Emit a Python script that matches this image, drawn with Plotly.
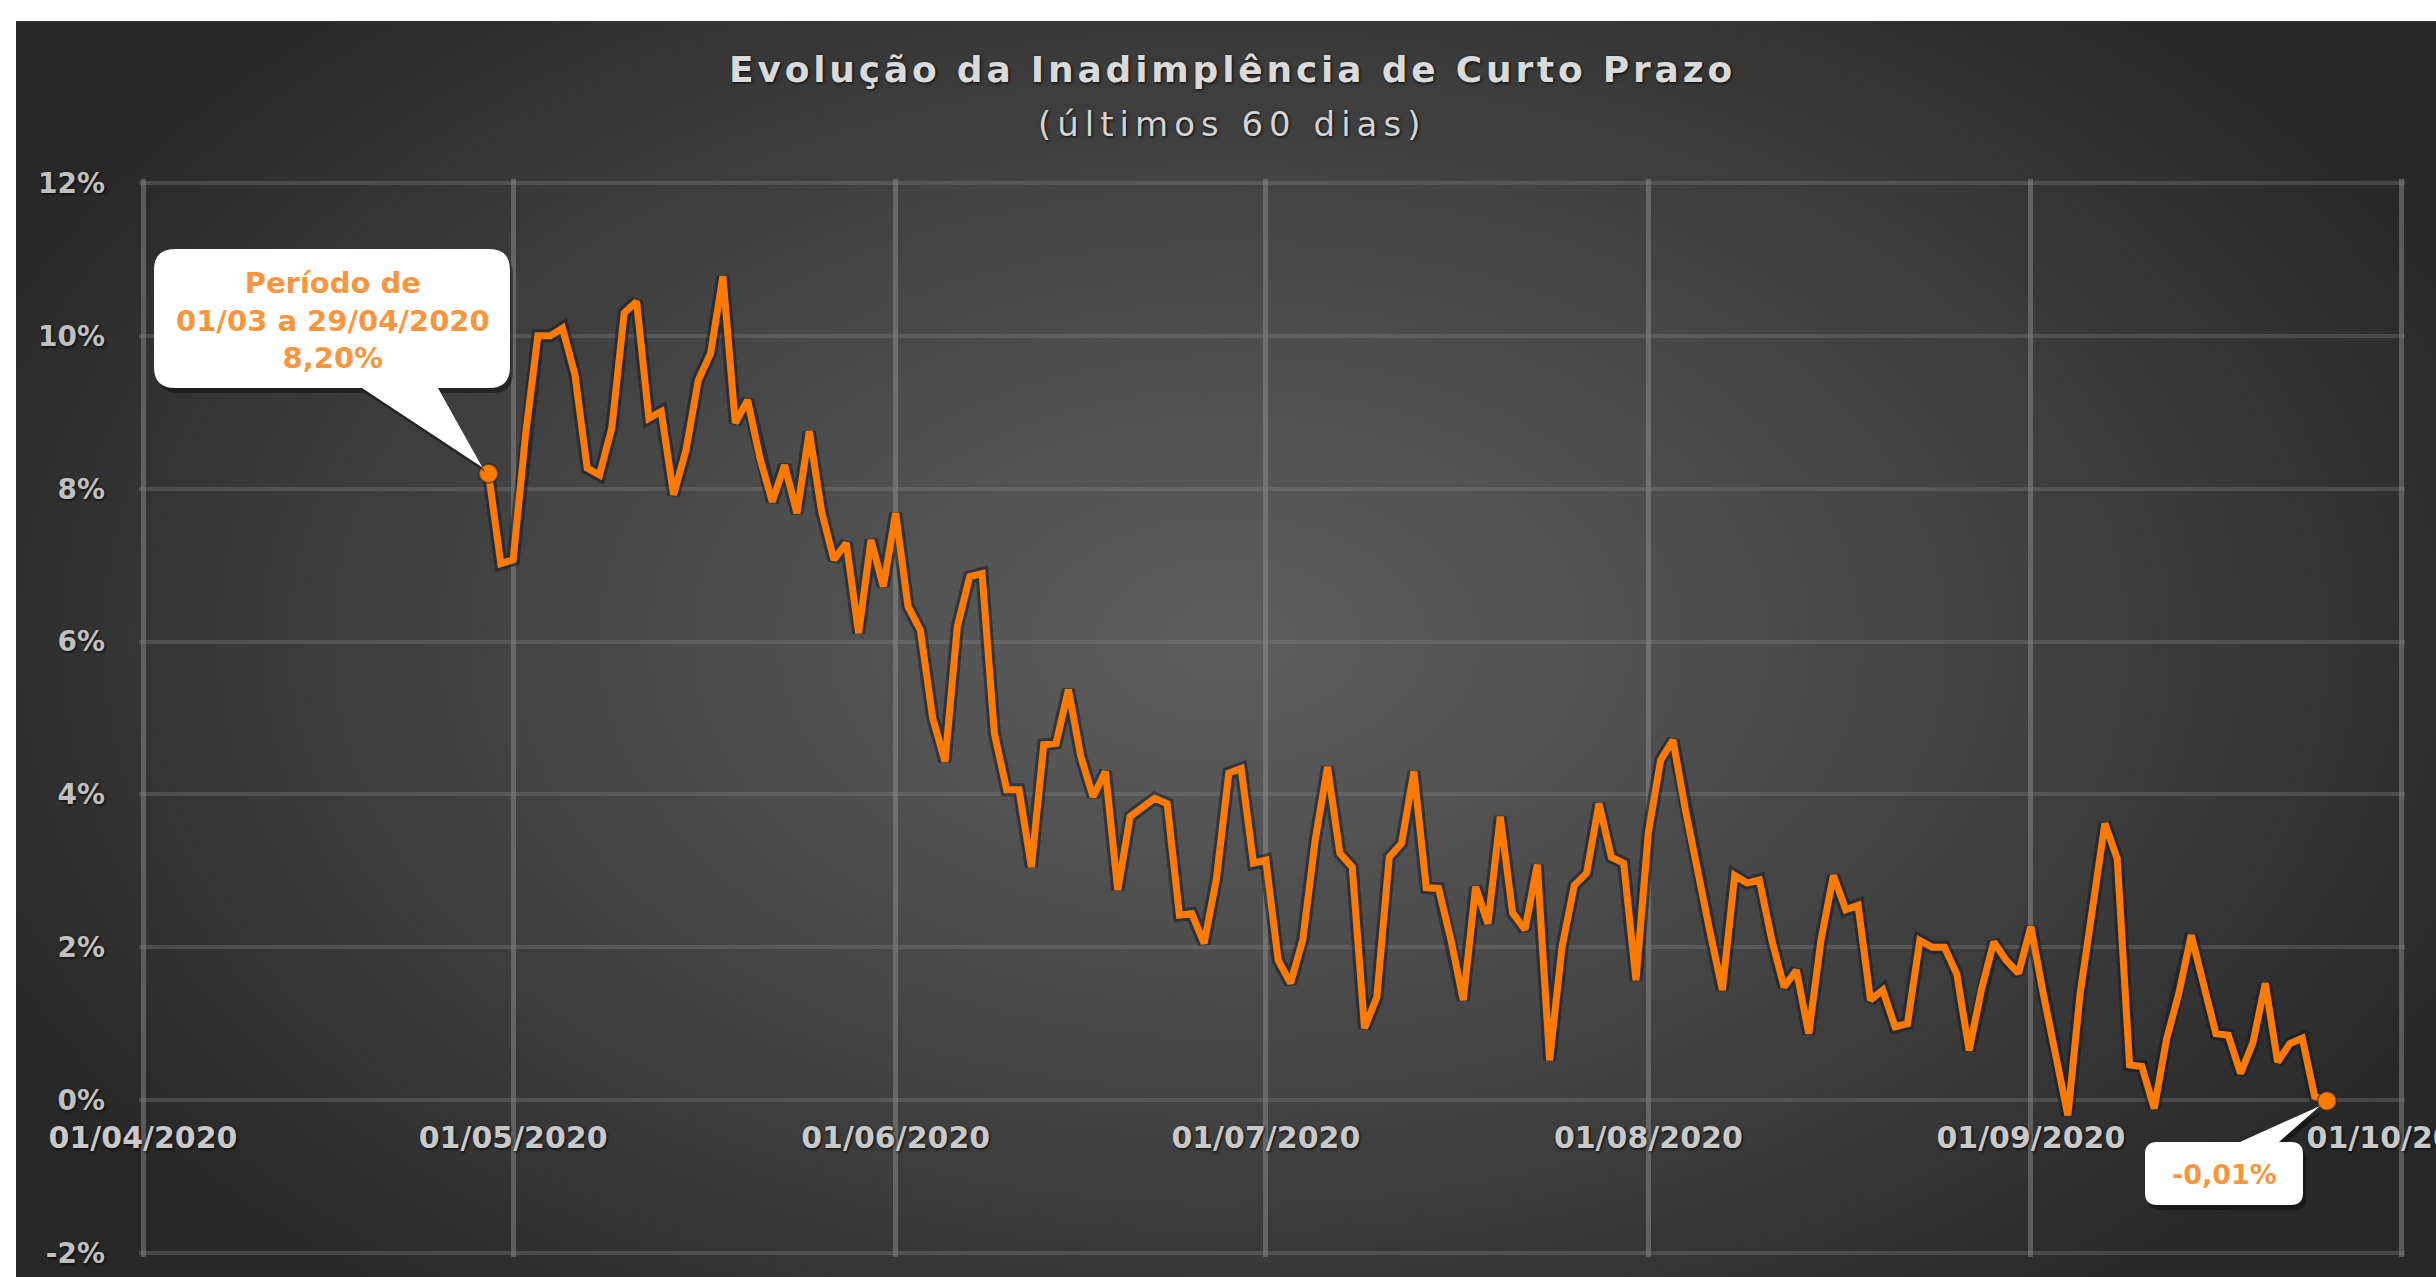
import plotly.graph_objects as go
import pandas as pd

# ---------------- data ----------------
START_DATE = "2020-04-29"
rate = [
    8.20, 7.02, 7.07, 8.70, 10.00, 10.00, 10.10, 9.50, 8.27, 8.18,
    8.80, 10.30, 10.45, 8.92, 9.01, 7.92, 8.50, 9.42, 9.77, 10.78,
    8.86, 9.16, 8.40, 7.83, 8.31, 7.68, 8.75, 7.70, 7.07, 7.29,
    6.11, 7.33, 6.72, 7.68, 6.46, 6.15, 5.00, 4.43, 6.20, 6.85,
    6.89, 4.80, 4.06, 4.06, 3.05, 4.65, 4.67, 5.37, 4.50, 3.97,
    4.30, 2.75, 3.71, 3.82, 3.95, 3.88, 2.42, 2.44, 2.05, 2.90,
    4.28, 4.34, 3.10, 3.14, 1.83, 1.53, 2.10, 3.40, 4.36, 3.23,
    3.05, 0.94, 1.35, 3.18, 3.36, 4.30, 2.78, 2.77, 2.10, 1.31,
    2.79, 2.31, 3.71, 2.45, 2.23, 3.08, 0.52, 2.00, 2.81, 2.97,
    3.88, 3.18, 3.10, 1.57, 3.50, 4.45, 4.71, 3.80, 3.05, 2.20,
    1.44, 2.94, 2.84, 2.88, 2.10, 1.48, 1.70, 0.87, 2.10, 2.94,
    2.49, 2.55, 1.31, 1.44, 0.96, 1.00, 2.09, 2.00, 2.00, 1.65,
    0.65, 1.45, 2.07, 1.83, 1.66, 2.27, 1.40, 0.60, -0.20, 1.40,
    2.50, 3.62, 3.16, 0.46, 0.44, -0.11, 0.80, 1.40, 2.16, 1.50,
    0.87, 0.85, 0.35, 0.75, 1.53, 0.50, 0.74, 0.81, 0.05, -0.01,
]

x_tick_dates = ["2020-04-01", "2020-05-01", "2020-06-01", "2020-07-01",
                "2020-08-01", "2020-09-01", "2020-10-01"]
x_tick_labels = ["01/04/2020", "01/05/2020", "01/06/2020", "01/07/2020",
                 "01/08/2020", "01/09/2020", "01/10/2020"]
y_tick_values = [-2, 0, 2, 4, 6, 8, 10, 12]
y_tick_labels = ["-2%", "0%", "2%", "4%", "6%", "8%", "10%", "12%"]

title_text = "Evolução da Inadimplência de Curto Prazo"
subtitle_text = "(últimos 60 dias)"
callout_first_lines = ["Período de", "01/03 a 29/04/2020", "8,20%"]
callout_last_text = "-0,01%"

dates = pd.date_range(START_DATE, periods=len(rate), freq="D")

# ---------------- geometry helpers ----------------
W, H = 2436, 1277
GX0, GX1, GY0, GY1 = 143, 2401, 183, 1253   # pixel extent of the grid
PAD = 4
ML, MR, MT, MB = GX0 - PAD, W - GX1 - PAD, GY0 - PAD, H - GY1 - PAD
PW, PH = W - ML - MR, H - MT - MB
Y_MIN, Y_MAX = y_tick_values[0], y_tick_values[-1]
X0, X1 = pd.Timestamp(x_tick_dates[0]), pd.Timestamp(x_tick_dates[-1])
dpp = (X1 - X0) / (GX1 - GX0)
vpp = (Y_MAX - Y_MIN) / (GY1 - GY0)
x_range = [(X0 - PAD * dpp).isoformat(sep=" "), (X1 + PAD * dpp).isoformat(sep=" ")]
y_range = [Y_MIN - PAD * vpp, Y_MAX + PAD * vpp]


def fx(px):
    return (px - ML) / PW


def fy(py):
    return (H - MB - py) / PH


def data_px(d, v):
    px = GX0 + (pd.Timestamp(d) - X0) / (X1 - X0) * (GX1 - GX0)
    py = GY0 + (Y_MAX - v) / (Y_MAX - Y_MIN) * (GY1 - GY0)
    return px, py


def pt(p):
    return f"{fx(p[0]):.5f},{fy(p[1]):.5f}"


def callout_path(x0, y0, x1, y1, r, side, ta, tb, tip, dx=0, dy=0):
    x0, x1, ta, tb = x0 + dx, x1 + dx, ta + dx, tb + dx
    y0, y1 = y0 + dy, y1 + dy
    tip = (tip[0] + dx, tip[1] + dy)
    s = f"M {pt((x0 + r, y0))} "
    if side == "top":
        s += f"L {pt((ta, y0))} L {pt(tip)} L {pt((tb, y0))} "
    s += f"L {pt((x1 - r, y0))} Q {pt((x1, y0))} {pt((x1, y0 + r))} "
    s += f"L {pt((x1, y1 - r))} Q {pt((x1, y1))} {pt((x1 - r, y1))} "
    if side == "bottom":
        s += f"L {pt((tb, y1))} L {pt(tip)} L {pt((ta, y1))} "
    s += f"L {pt((x0 + r, y1))} Q {pt((x0, y1))} {pt((x0, y1 - r))} "
    s += f"L {pt((x0, y0 + r))} Q {pt((x0, y0))} {pt((x0 + r, y0))} Z"
    return s


shapes = []
# dark panel
EDGE, CENTER = 40, 92
PANEL_L, PANEL_T = 16, 21
shapes.append(dict(type="rect", xref="paper", yref="paper", layer="below",
                   x0=fx(PANEL_L), x1=fx(W + 5), y0=fy(H + 5), y1=fy(PANEL_T),
                   fillcolor=f"rgb({EDGE},{EDGE},{EDGE})", line=dict(width=0)))
# radial gradient (stacked ellipses)
CX, CY, RX, RY, N = 1230, 640, 1350, 850, 60
for i in range(N):
    r = 1 - i / N
    rm = max(r - 0.5 / N, 0)
    c = round(CENTER - (CENTER - EDGE) * rm ** 1.2)
    shapes.append(dict(type="circle", xref="paper", yref="paper", layer="below",
                       x0=fx(CX - RX * r), x1=fx(CX + RX * r),
                       y0=fy(CY + RY * r), y1=fy(CY - RY * r),
                       fillcolor=f"rgb({c},{c},{c})", line=dict(width=0)))
# white frame strips
shapes.append(dict(type="rect", xref="paper", yref="paper", layer="below",
                   x0=fx(-5), x1=fx(PANEL_L), y0=fy(H + 5), y1=fy(-5),
                   fillcolor="white", line=dict(width=0)))
shapes.append(dict(type="rect", xref="paper", yref="paper", layer="below",
                   x0=fx(-5), x1=fx(W + 5), y0=fy(PANEL_T), y1=fy(-5),
                   fillcolor="white", line=dict(width=0)))

# callout 1 (first point)
p_first = data_px(dates[0], rate[0])
tip1 = (p_first[0] - 6, p_first[1] - 6)
for dx, dy, col in [(3, 5, "rgba(0,0,0,0.4)"), (0, 0, "white")]:
    shapes.append(dict(type="path", xref="paper", yref="paper", layer="above",
                       path=callout_path(154, 249, 510, 388, 21, "bottom", 362, 438, tip1, dx, dy),
                       fillcolor=col, line=dict(width=0)))
# callout 2 (last point)
p_last = data_px(dates[-1], rate[-1])
tip2 = (p_last[0] - 7, p_last[1] + 5)
for dx, dy, col in [(3, 5, "rgba(0,0,0,0.4)"), (0, 0, "white")]:
    shapes.append(dict(type="path", xref="paper", yref="paper", layer="above",
                       path=callout_path(2145, 1142, 2303, 1205, 12, "top", 2240, 2279, tip2, dx, dy),
                       fillcolor=col, line=dict(width=0)))

ORANGE = "#ff7b00"
TEXT_ORANGE = "#f7963f"
SHADOW = "1px 1px 3px rgba(0,0,0,0.9)"

fig = go.Figure()
fig.add_trace(go.Scatter(x=dates, y=rate, mode="lines", hoverinfo="skip",
                         line=dict(color="rgba(18,28,42,0.55)", width=13)))
fig.add_trace(go.Scatter(x=dates, y=rate, mode="lines",
                         line=dict(color=ORANGE, width=7)))
fig.add_trace(go.Scatter(x=[dates[0], dates[-1]], y=[rate[0], rate[-1]], mode="markers",
                         marker=dict(size=19, color=ORANGE,
                                     line=dict(color="rgba(18,28,42,0.5)", width=2))))

annotations = [
    dict(xref="paper", yref="paper", x=fx(1232), y=fy(70), xanchor="center", yanchor="middle",
         text=f"<span style='letter-spacing:3.8px'><b>{title_text}</b></span>", showarrow=False,
         font=dict(family="DejaVu Sans", size=36, color="#dadada", shadow=SHADOW)),
    dict(xref="paper", yref="paper", x=fx(1232), y=fy(124), xanchor="center", yanchor="middle",
         text=f"<span style='letter-spacing:6px'>{subtitle_text}</span>", showarrow=False,
         font=dict(family="DejaVu Sans", size=34, color="#d4d4d4", shadow=SHADOW)),
    dict(xref="paper", yref="paper", x=fx(333), y=fy(320), xanchor="center", yanchor="middle",
         text="<br>".join(callout_first_lines), showarrow=False, align="center",
         font=dict(family="DejaVu Sans", size=29, color=TEXT_ORANGE, weight="bold")),
    dict(xref="paper", yref="paper", x=fx(2224), y=fy(1174), xanchor="center", yanchor="middle",
         text=callout_last_text, showarrow=False,
         font=dict(family="DejaVu Sans", size=27, color=TEXT_ORANGE, weight="bold")),
]

fig.update_layout(
    width=W, height=H,
    margin=dict(l=ML, r=MR, t=MT, b=MB, pad=0, autoexpand=False),
    paper_bgcolor="white",
    plot_bgcolor="rgba(0,0,0,0)",
    showlegend=False,
    shapes=shapes,
    annotations=annotations,
    xaxis=dict(
        type="date", range=x_range, automargin=False,
        tickmode="array", tickvals=x_tick_dates, ticktext=x_tick_labels,
        showgrid=True, gridcolor="rgba(150,150,150,0.45)", gridwidth=5,
        zeroline=False, showline=False, ticks="",
        anchor="free", position=fy(data_px(dates[0], 0)[1]),
        ticklabelstandoff=17, ticklabeloverflow="allow",
        tickfont=dict(family="DejaVu Sans", size=30, color="#c9c9c9", weight="bold", shadow=SHADOW),
    ),
    yaxis=dict(
        range=y_range, automargin=False,
        tickmode="array", tickvals=y_tick_values, ticktext=y_tick_labels,
        showgrid=True, gridcolor="rgba(130,130,130,0.35)", gridwidth=4,
        zeroline=False, showline=False, ticks="",
        ticklabelstandoff=33,
        tickfont=dict(family="DejaVu Sans", size=28, color="#c0c0c0", weight="bold", shadow=SHADOW),
    ),
)

fig.write_html("out.html", config={"displayModeBar": False},
               post_script="document.body.style.margin='0';document.body.style.overflow='hidden';")
